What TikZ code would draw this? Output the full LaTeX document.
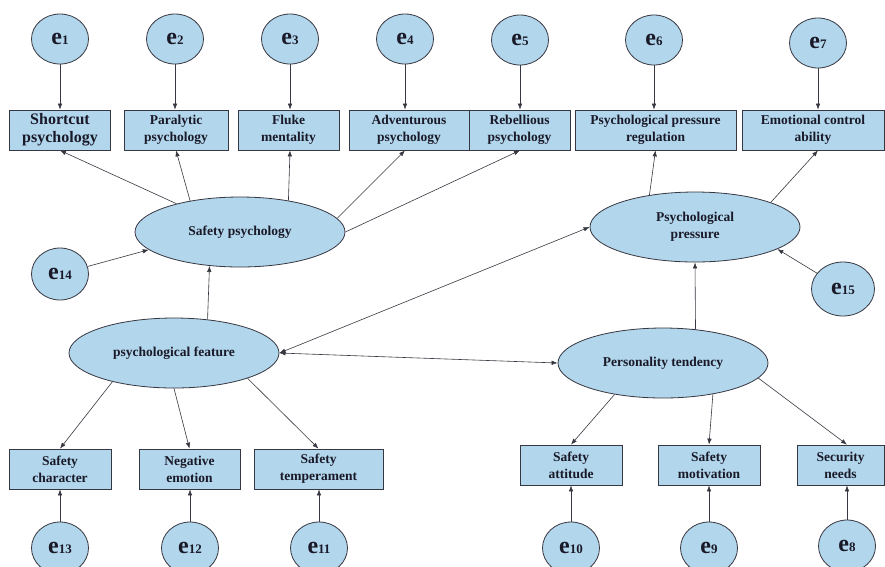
\documentclass[tikz,border=0pt]{standalone}
\usepackage{fontspec}
\setmainfont{Liberation Serif}
\usetikzlibrary{arrows.meta,positioning,shapes.geometric}
\definecolor{boxblue}{RGB}{178,214,236}
\definecolor{edgegray}{RGB}{55,55,65}
\definecolor{textnavy}{RGB}{25,25,40}
\newcommand{\evar}[1]{{\fontsize{24}{24}\selectfont e}{\fontsize{13}{13}\selectfont #1}}
\tikzset{
  obsbox/.style={draw=edgegray, fill=boxblue, line width=0.8pt, minimum height=40pt, text=textnavy,
    inner sep=1pt, align=center, font=\fontsize{13.5}{17}\selectfont\bfseries},
  latent/.style={ellipse, draw=edgegray, fill=boxblue, line width=0.8pt, minimum width=210pt, text=textnavy,
    minimum height=70pt, inner sep=0pt, align=center, font=\fontsize{13.5}{17}\selectfont\bfseries},
  errvar/.style={ellipse, draw=edgegray, fill=boxblue, line width=0.8pt, minimum width=57pt, text=textnavy,
    minimum height=50pt, inner sep=0pt, font=\bfseries},
  link/.style={draw=edgegray, line width=0.6pt, -{Latex[length=6pt,width=4.5pt]}},
  bilink/.style={link, {Latex[length=6pt,width=4.5pt]}-{Latex[length=6pt,width=4.5pt]}}
}
\begin{document}
\begin{tikzpicture}[x=1pt,y=-1pt]
  \fill[white] (0,0) rectangle (885,566);
  \useasboundingbox (0,0) rectangle (885,566);

  % error terms, top row
  \node[errvar] (e1) at (60,39) {\evar{1}};
  \node[errvar] (e2) at (175,39) {\evar{2}};
  \node[errvar] (e3) at (290,39) {\evar{3}};
  \node[errvar] (e4) at (405,39) {\evar{4}};
  \node[errvar] (e5) at (520,40) {\evar{5}};
  \node[errvar] (e6) at (654,40) {\evar{6}};
  \node[errvar] (e7) at (818,43) {\evar{7}};

  % observed indicators, top row
  \node[obsbox, minimum width=101pt, font=\fontsize{16}{18}\selectfont\bfseries] (shortcut) at (60,130) {Shortcut\\psychology};
  \node[obsbox, minimum width=104pt] (paralytic) at (176,130) {Paralytic\\psychology};
  \node[obsbox, minimum width=101pt] (fluke) at (288.5,130) {Fluke\\mentality};
  \node[obsbox, minimum width=120pt] (adventurous) at (409,130) {Adventurous\\psychology};
  \node[obsbox, minimum width=101pt] (rebellious) at (519.5,130) {Rebellious\\psychology};
  \node[obsbox, minimum width=161pt] (regulation) at (655.5,130) {Psychological pressure\\regulation};
  \node[obsbox, minimum width=142pt] (control) at (813,130) {Emotional control\\ability};

  % latent variables
  \node[latent] (safepsy) at (240,232) {Safety psychology};
  \node[latent] (pressure) at (695,227) {Psychological\\pressure};
  \node[latent] (feature) at (174,353) {psychological feature};
  \node[latent] (personality) at (663,363) {Personality tendency};

  % disturbances
  \node[errvar, minimum height=52pt] (e14) at (60,274) {\evar{14}};
  \node[errvar, minimum width=63pt, minimum height=54pt] (e15) at (843,289) {\evar{15}};

  % observed indicators, bottom row
  \node[obsbox, minimum width=102pt] (character) at (60,469) {Safety\\character};
  \node[obsbox, minimum width=101pt] (negative) at (189.5,469) {Negative\\emotion};
  \node[obsbox, minimum width=129pt] (temperament) at (318.5,469) {Safety\\temperament};
  \node[obsbox, minimum width=102pt] (attitude) at (571,465) {Safety\\attitude};
  \node[obsbox, minimum width=102pt] (motivation) at (709,465) {Safety\\motivation};
  \node[obsbox, minimum width=87pt] (needs) at (840.5,465) {Security\\needs};

  % error terms, bottom row
  \node[errvar, minimum height=52pt] (e13) at (60,548) {\evar{13}};
  \node[errvar, minimum height=52pt] (e12) at (190,548) {\evar{12}};
  \node[errvar, minimum height=52pt] (e11) at (319,548) {\evar{11}};
  \node[errvar, minimum height=52pt] (e10) at (571,548) {\evar{10}};
  \node[errvar, minimum height=52pt] (e9) at (709,548) {\evar{9}};
  \node[errvar, minimum height=52pt] (e8) at (847,546) {\evar{8}};

  % error arrows
  \foreach \e/\b in {e1/shortcut,e2/paralytic,e3/fluke,e4/adventurous,e5/rebellious,e6/regulation,e7/control}
    \draw[link] (\e) -- (\e |- \b.north);
  \foreach \e/\b in {e13/character,e12/negative,e11/temperament,e10/attitude,e9/motivation,e8/needs}
    \draw[link] (\e) -- (\e |- \b.south);

  % loadings
  \draw[link] (safepsy.156) -- (shortcut.south);
  \draw[link] (safepsy.148) -- (paralytic.south);
  \draw[link] (safepsy.33) -- (e3 |- fluke.south);
  \draw[link] (safepsy.8) -- (e4 |- adventurous.south);
  \draw[link] (safepsy.east) -- (e5 |- rebellious.south);
  \draw[link] (pressure.145) -- (regulation.south);
  \draw[link] (pressure.18) -- (e7 |- control.south);
  \draw[link] (feature.205) -- (character.north);
  \draw[link] (feature.south) -- (negative.north);
  \draw[link] (feature.341) -- (temperament.north);
  \draw[link] (personality.213) -- (attitude.north);
  \draw[link] (personality.328) -- (motivation.north);
  \draw[link] (personality.351) -- (e8 |- needs.north);

  % structural paths
  \draw[link] (e14) -- (safepsy.191);
  \draw[link] (feature.45) -- (safepsy.228);
  \draw[link] (personality.46) -- (pressure.south);
  \draw[link] (e15) -- (pressure.345);
  \draw[bilink] (feature.east) -- (pressure.west);
  \draw[bilink] (feature.east) -- (personality.west);
\end{tikzpicture}
\end{document}
